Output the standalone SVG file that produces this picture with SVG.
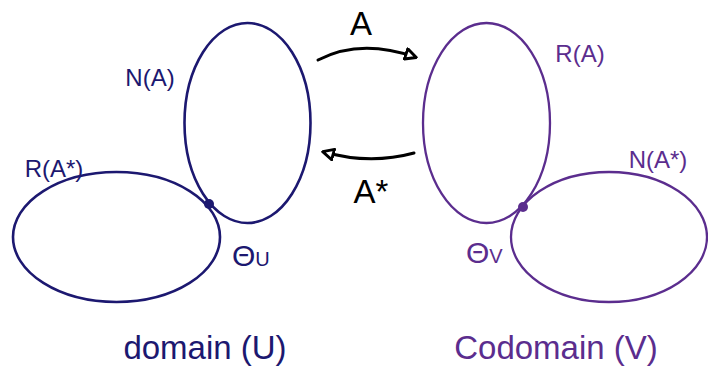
<svg xmlns="http://www.w3.org/2000/svg" width="708" height="370" viewBox="0 0 708 370">
<defs>
<style>
.u{fill:none;stroke:#1c1870;stroke-width:2.6}
.v{fill:none;stroke:#5b2d8e;stroke-width:2.3}
.tu{fill:#1c1870;font-family:"Liberation Sans",sans-serif}
.tv{fill:#5b2d8e;font-family:"Liberation Sans",sans-serif}
.tk{fill:#000;font-family:"Liberation Sans",sans-serif}
.arr{fill:none;stroke:#000;stroke-width:3;stroke-linecap:round}
</style>
<marker id="ah" viewBox="0 0 10 10" refX="8" refY="5" markerWidth="4.5" markerHeight="4.5" orient="auto">
<path d="M1,1 L9,5 L1,9 Z" fill="#fff" stroke="#000" stroke-width="2.2" stroke-linejoin="round"/>
</marker>
</defs>
<rect width="708" height="370" fill="#fff"/>
<g id="domain">
<g id="nullA"><ellipse class="u" cx="247.5" cy="123" rx="63" ry="100"/><text class="tu" x="150" y="86" font-size="24" text-anchor="middle">N(A)</text></g>
<g id="rangeAstar"><ellipse class="u" cx="116.5" cy="237" rx="103.5" ry="65"/><text class="tu" x="54" y="177" font-size="24" text-anchor="middle">R(A*)</text></g>
<g id="zeroU"><circle cx="209" cy="204" r="5" fill="#1c1870"/><text class="tu" x="232" y="266" font-size="30">Θ<tspan font-size="20">U</tspan></text></g>
<text class="tu" x="205" y="359" font-size="33" text-anchor="middle">domain (U)</text>
</g>
<g id="codomain">
<g id="rangeA"><ellipse class="v" cx="486.5" cy="123" rx="63.5" ry="100"/><text class="tv" x="580" y="62" font-size="24" text-anchor="middle">R(A)</text></g>
<g id="nullAstar"><ellipse class="v" cx="609" cy="237" rx="98" ry="65"/><text class="tv" x="658" y="168" font-size="24" text-anchor="middle">N(A*)</text></g>
<g id="zeroV"><circle cx="523" cy="207" r="5" fill="#5b2d8e"/><text class="tv" x="466" y="263" font-size="30">Θ<tspan font-size="20">V</tspan></text></g>
<text class="tv" x="556" y="359" font-size="33" text-anchor="middle">Codomain (V)</text>
</g>
<g id="connectors">
<path class="arr" d="M318,60 Q360,38 415,57" marker-end="url(#ah)"/>
<path class="arr" d="M414,153 Q370,165 324,152" marker-end="url(#ah)"/>
<text class="tk" x="361" y="35" font-size="33" text-anchor="middle">A</text>
<text class="tk" x="371" y="203" font-size="33" text-anchor="middle">A*</text>
</g>
</svg>
